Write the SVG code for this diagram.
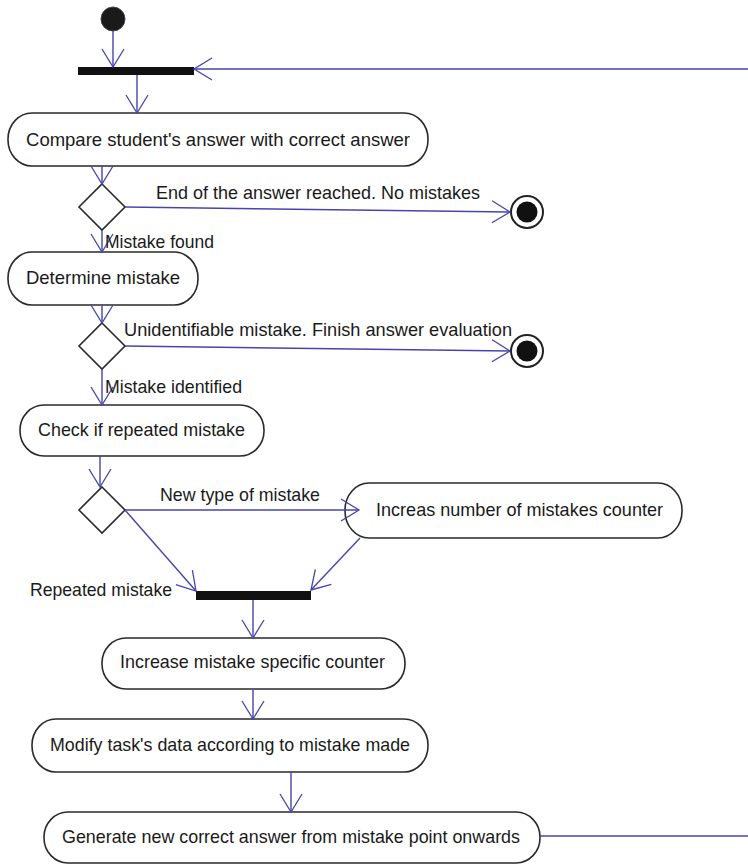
<svg xmlns="http://www.w3.org/2000/svg" width="748" height="865" viewBox="0 0 748 865">
<defs>
<marker id="v" markerUnits="userSpaceOnUse" markerWidth="24" markerHeight="26" refX="19" refY="12" orient="auto">
<path d="M1,1 L19,12 L1,23" fill="none" stroke="#4545ad" stroke-width="1.3"/>
</marker>
<style>
.n{fill:#fff;stroke:#2a2a2a;stroke-width:1.6}
.t{font-family:"Liberation Sans",Arial,sans-serif;font-size:18.5px;fill:#1a1a1a}
.c{fill:none;stroke:#4545ad;stroke-width:1.4}
.bar{fill:#111}
</style>
</defs>
<rect width="748" height="865" fill="#fff"/>
<g id="start"><circle cx="113" cy="19" r="12" fill="#1a1a1a" stroke="#444" stroke-width="1"/></g>
<g id="fork1"><rect class="bar" x="78" y="67" width="116" height="8"/></g>
<g id="n1"><rect class="n" x="8" y="113" width="420" height="53" rx="24" ry="26"/><text class="t" x="218" y="146" text-anchor="middle">Compare student's answer with correct answer</text></g>
<g id="d1"><path class="n" d="M102,184 L125,207 L102,230 L79,207 Z"/></g>
<g id="end1"><circle cx="527" cy="212" r="16" fill="#fff" stroke="#222" stroke-width="2"/><circle cx="527" cy="212" r="10.5" fill="#111"/></g>
<g id="n2"><rect class="n" x="8" y="252" width="190" height="53" rx="24" ry="26"/><text class="t" x="103" y="284" text-anchor="middle">Determine mistake</text></g>
<g id="d2"><path class="n" d="M102,323 L125,346 L102,369 L79,346 Z"/></g>
<g id="end2"><circle cx="527" cy="351" r="16" fill="#fff" stroke="#222" stroke-width="2"/><circle cx="527" cy="351" r="10.5" fill="#111"/></g>
<g id="n3"><rect class="n" x="20" y="405" width="244" height="51" rx="24" ry="25"/><text class="t" x="38" y="436" textLength="207" lengthAdjust="spacingAndGlyphs">Check if repeated mistake</text></g>
<g id="d3"><path class="n" d="M102,487 L125,510 L102,533 L79,510 Z"/></g>
<g id="n4"><rect class="n" x="345" y="483" width="337" height="55" rx="24" ry="27"/><text class="t" x="376" y="516" textLength="287" lengthAdjust="spacingAndGlyphs">Increas number of mistakes counter</text></g>
<g id="join"><rect class="bar" x="196" y="591" width="115" height="9"/></g>
<g id="n5"><rect class="n" x="102" y="638" width="303" height="51" rx="24" ry="25"/><text class="t" x="120" y="668" textLength="265" lengthAdjust="spacingAndGlyphs">Increase mistake specific counter</text></g>
<g id="n6"><rect class="n" x="32" y="719" width="396" height="53" rx="24" ry="26"/><text class="t" x="50" y="751" textLength="360" lengthAdjust="spacingAndGlyphs">Modify task's data according to mistake made</text></g>
<g id="n7"><rect class="n" x="44" y="812" width="496" height="51" rx="24" ry="25"/><text class="t" x="62" y="843" textLength="458" lengthAdjust="spacingAndGlyphs">Generate new correct answer from mistake point onwards</text></g>
<g id="connectors">
<path class="c" d="M113,31 L113,67" marker-end="url(#v)"/>
<path class="c" d="M748,69 L194,69" marker-end="url(#v)"/>
<path class="c" d="M137,75 L137,113" marker-end="url(#v)"/>
<path class="c" d="M102,166 L102,184" marker-end="url(#v)"/>
<path class="c" d="M125,207 L510,212" marker-end="url(#v)"/>
<path class="c" d="M102,230 L102,252" marker-end="url(#v)"/>
<path class="c" d="M102,305 L102,323" marker-end="url(#v)"/>
<path class="c" d="M125,346 L510,351" marker-end="url(#v)"/>
<path class="c" d="M102,369 L102,405" marker-end="url(#v)"/>
<path class="c" d="M100,456 L100,487" marker-end="url(#v)"/>
<path class="c" d="M125,510 L359,510" marker-end="url(#v)"/>
<path class="c" d="M125,510 L196,591" marker-end="url(#v)"/>
<path class="c" d="M360,538 L311,590" marker-end="url(#v)"/>
<path class="c" d="M253,600 L253,638" marker-end="url(#v)"/>
<path class="c" d="M253,689 L253,719" marker-end="url(#v)"/>
<path class="c" d="M291,772 L291,812" marker-end="url(#v)"/>
<path class="c" d="M540,836 L748,836"/>
</g>
<g id="labels">
<text class="t" x="156" y="199" textLength="324" lengthAdjust="spacingAndGlyphs">End of the answer reached. No mistakes</text>
<text class="t" x="105" y="248" textLength="109" lengthAdjust="spacingAndGlyphs">Mistake found</text>
<text class="t" x="124" y="336" textLength="388" lengthAdjust="spacingAndGlyphs">Unidentifiable mistake. Finish answer evaluation</text>
<text class="t" x="105" y="393" textLength="137" lengthAdjust="spacingAndGlyphs">Mistake identified</text>
<text class="t" x="160" y="501" textLength="160" lengthAdjust="spacingAndGlyphs">New type of mistake</text>
<text class="t" x="30" y="596" textLength="142" lengthAdjust="spacingAndGlyphs">Repeated mistake</text>
</g>
</svg>
